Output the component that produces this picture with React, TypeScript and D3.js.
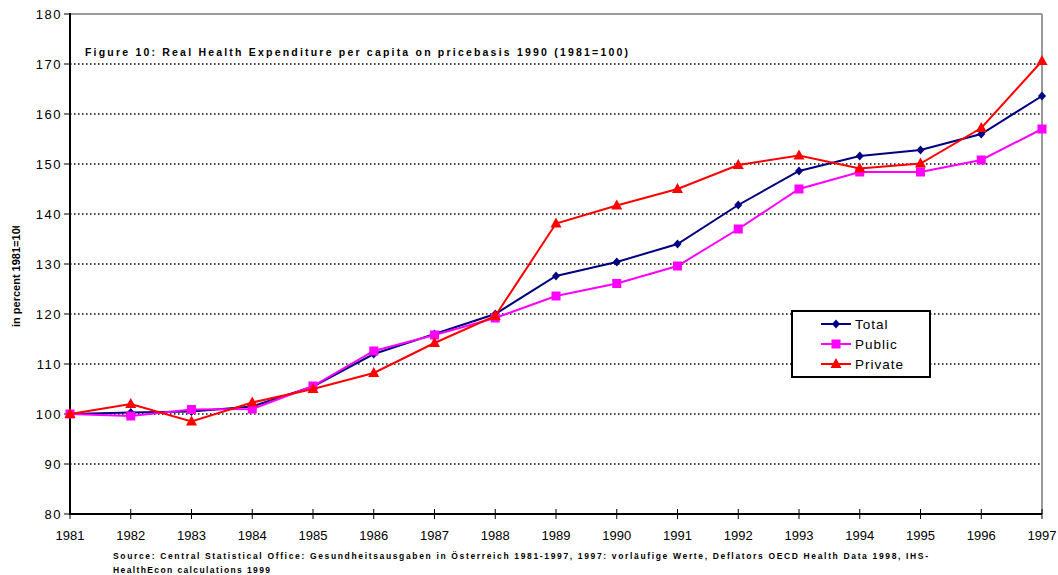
import React from "react";
import * as d3 from "d3";

const years = [1981,1982,1983,1984,1985,1986,1987,1988,1989,1990,1991,1992,1993,1994,1995,1996,1997];
const totalValues = [100,100.3,100.5,101.5,105.5,112,116,120,127.6,130.4,134,141.8,148.6,151.6,152.8,156,163.6];
const publicValues = [100,99.6,100.9,101,105.6,112.6,115.8,119.2,123.6,126.1,129.6,137,145,148.4,148.4,150.8,157];
const privateValues = [100,102,98.5,102.3,105,108.2,114.2,119.6,138.1,141.7,145,149.8,151.7,149.1,150.1,157.2,170.6];
const yTicks = [80,90,100,110,120,130,140,150,160,170,180];
const seriesNames = ["Total","Public","Private"];

const W = 1058, H = 575;
const left = 70, right = 1042, top = 14, bottom = 514;

export default function App() {
  const x = d3.scaleLinear().domain([1981, 1997]).range([left, right]);
  const y = d3.scaleLinear().domain([80, 180]).range([bottom, top]);
  const line = d3.line<number>().x((_, i) => x(years[i])).y(d => y(d));

  const series = [
    { name: seriesNames[0], values: totalValues, color: "#000080", marker: "diamond" },
    { name: seriesNames[1], values: publicValues, color: "#FF00FF", marker: "square" },
    { name: seriesNames[2], values: privateValues, color: "#FF0000", marker: "triangle" },
  ];

  const marker = (type: string, cx: number, cy: number, color: string, key: any) => {
    if (type === "square") return <rect key={key} x={cx - 4.5} y={cy - 4.5} width={9} height={9} fill={color} />;
    if (type === "triangle") return <path key={key} d={`M${cx},${cy - 6}L${cx + 5.5},${cy + 4}L${cx - 5.5},${cy + 4}Z`} fill={color} />;
    return <path key={key} d={`M${cx},${cy - 4.5}L${cx + 4},${cy}L${cx},${cy + 4.5}L${cx - 4},${cy}Z`} fill={color} />;
  };

  const font = "'Liberation Sans', Arial, sans-serif";

  return (
    <svg width={W} height={H} style={{ position: "absolute", left: 0, top: 0 }} fontFamily={font}>
      <rect x={0} y={0} width={W} height={H} fill="#fff" />
      <defs>
        <clipPath id="ylab"><rect x={0} y={226} width={40} height={300} /></clipPath>
      </defs>
      {/* frame */}
      <line x1={left} x2={right} y1={top} y2={top} stroke="#999" strokeWidth={2} />
      <line x1={right} x2={right} y1={top} y2={bottom} stroke="#999" strokeWidth={2} />
      {/* grid */}
      {yTicks.filter(t => t > 80 && t < 180).map(t => (
        <line key={t} x1={left} x2={right} y1={y(t)} y2={y(t)} stroke="#000" strokeWidth={1.5} strokeDasharray="1.5 2.5" />
      ))}
      {/* y axis */}
      <line x1={left} x2={left} y1={top - 1} y2={bottom + 1} stroke="#000" strokeWidth={2} />
      {yTicks.map(t => (
        <g key={t}>
          <line x1={left - 6} x2={left} y1={y(t)} y2={y(t)} stroke="#000" strokeWidth={1} />
          <text x={left - 8} y={y(t)} dy="0.35em" textAnchor="end" fontSize={13} letterSpacing={1.5}>{t}</text>
        </g>
      ))}
      {/* x axis */}
      <line x1={left} x2={right} y1={bottom} y2={bottom} stroke="#000" strokeWidth={2} />
      {years.map(yr => (
        <g key={yr}>
          <line x1={x(yr)} x2={x(yr)} y1={bottom - 5} y2={bottom + 5} stroke="#000" strokeWidth={1} />
          <text x={x(yr)} y={540} textAnchor="middle" fontSize={13}>{yr}</text>
        </g>
      ))}
      {/* y label */}
      <g clipPath="url(#ylab)">
        <text transform={`translate(20,327) rotate(-90)`} textAnchor="start" fontSize={11} fontWeight="bold">in percent 1981=100</text>
      </g>
      {/* title */}
      <text x={85} y={56} fontSize={10.5} fontWeight="bold" textLength={543} lengthAdjust="spacing">Figure 10: Real Health Expenditure per capita on pricebasis 1990 (1981=100)</text>
      {/* series */}
      {series.map(s => (
        <g key={s.name}>
          <path d={line(s.values) || ""} fill="none" stroke={s.color} strokeWidth={2} />
          {s.values.map((v, i) => marker(s.marker, x(years[i]), y(v), s.color, i))}
        </g>
      ))}
      {/* legend */}
      <rect x={792} y={311} width={138} height={66} fill="#fff" stroke="#000" strokeWidth={2} />
      {series.map((s, i) => {
        const ly = 324 + i * 20;
        return (
          <g key={s.name}>
            <line x1={821} x2={851} y1={ly} y2={ly} stroke={s.color} strokeWidth={2} />
            {marker(s.marker, 836, ly, s.color, "m")}
            <text x={855} y={ly} dy="0.38em" fontSize={13.5} letterSpacing={1}>{s.name}</text>
          </g>
        );
      })}
      {/* source */}
      <text x={113} y={559} fontSize={8.5} fontWeight="bold" textLength={815} lengthAdjust="spacing">Source: Central Statistical Office: Gesundheitsausgaben in Österreich 1981-1997, 1997: vorläufige Werte, Deflators OECD Health Data 1998, IHS-</text>
      <text x={113} y={573} fontSize={8.5} fontWeight="bold" textLength={157} lengthAdjust="spacing">HealthEcon calculations 1999</text>
    </svg>
  );
}
